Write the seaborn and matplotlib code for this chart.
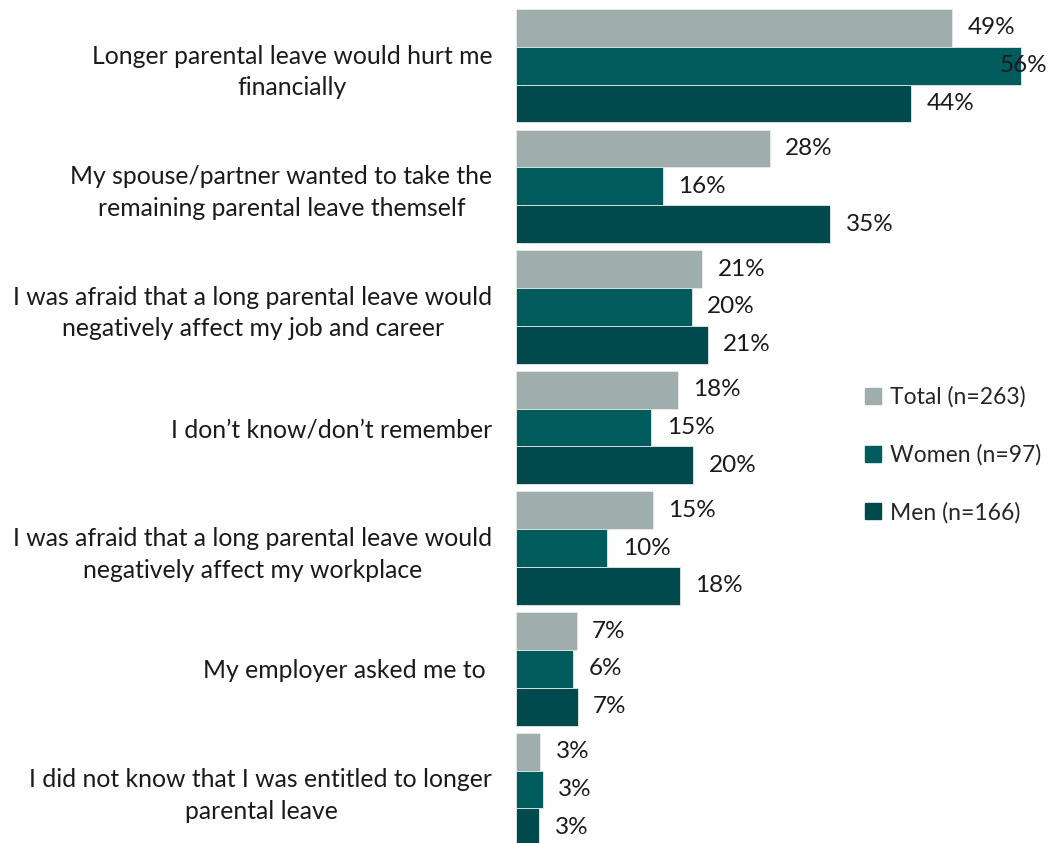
import pandas as pd
import numpy as np
import matplotlib.pyplot as plt
import seaborn as sns

categories = [
    "Longer parental leave would hurt me\nfinancially",
    "My spouse/partner wanted to take the\nremaining parental leave themself",
    "I was afraid that a long parental leave would\nnegatively affect my job and career",
    "I don\u2019t know/don\u2019t remember",
    "I was afraid that a long parental leave would\nnegatively affect my workplace",
    "My employer asked me to ",
    "I did not know that I was entitled to longer\nparental leave",
]
groups = ["Total (n=263)", "Women (n=97)", "Men (n=166)"]
total = [48.7, 28.3, 20.8, 18.1, 15.3, 6.8, 2.7]
women = [56.4, 16.4, 19.6, 15.1, 10.2, 6.4, 3.0]
men = [44.1, 35.1, 21.4, 19.8, 18.3, 6.9, 2.6]
colors = ["#9FADAC", "#005B5C", "#004A4D"]

rows = []
for g, vals in zip(groups, [total, women, men]):
    for c, v in zip(categories, vals):
        rows.append({"reason": c, "group": g, "value": v})
df = pd.DataFrame(rows)

sns.set_theme(style="white")
plt.rcParams['font.family'] = ['Lato', 'DejaVu Sans']
fs = 17.8

fig = plt.figure(figsize=(10.49, 8.43), dpi=100)
ax = fig.add_axes([0.492, -0.008, 0.508, 1.0016])

sns.barplot(data=df, y="reason", x="value", hue="group", palette=colors,
            width=0.94, orient="h", ax=ax, legend=False, saturation=1,
            edgecolor="#e6eaea", linewidth=0.6)

xmax = 59.5
ax.set_xlim(0, xmax)
ax.set_ylim(6.5, -0.5)
ax.set_xlabel("")
ax.set_ylabel("")
ax.set_xticks([])
sns.despine(ax=ax, left=True, bottom=True, top=True, right=True)
ax.tick_params(axis="y", length=0, pad=17)
for lab in ax.get_yticklabels():
    lab.set_fontsize(fs)
    lab.set_color("#1a1a1a")
    lab.set_multialignment("center")
    lab.set_linespacing(1.45)

for cont in ax.containers:
    for bar in cont:
        v = bar.get_width()
        yc = bar.get_y() + bar.get_height() / 2
        txt = f"{v:.0f}%"
        if v + 1.7 + 4.5 > xmax:
            ax.text(xmax - 0.2, yc, txt, ha="right", va="center",
                    fontsize=17.5, color="#1a1a1a")
        else:
            ax.text(v + 1.7, yc, txt, ha="left", va="center",
                    fontsize=17.5, color="#1a1a1a")

handles = [plt.Rectangle((0, 0), 1, 1, color=c) for c in colors]
fig.legend(handles, groups, loc="upper left", bbox_to_anchor=(0.805, 0.566),
           frameon=False, fontsize=16.5, handlelength=0.7, handleheight=0.7,
           handletextpad=0.4, labelspacing=1.58)

fig.savefig("out.png", dpi=100)
